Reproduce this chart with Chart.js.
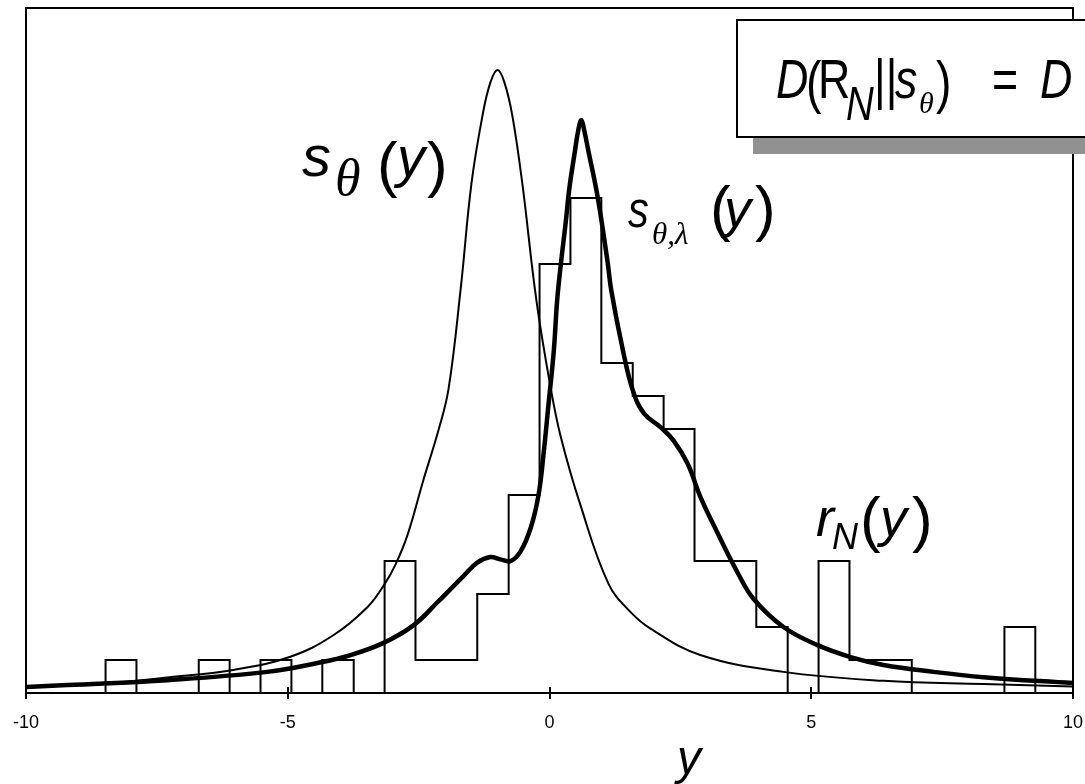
<!DOCTYPE html>
<html>
<head>
<meta charset="utf-8">
<script src="https://cdn.jsdelivr.net/npm/chart.js@4"></script>
<style>
  html, body { margin: 0; padding: 0; background: #fff; }
  canvas { display: block; }
</style>
</head>
<body>
<canvas id="chart" width="1085" height="784"></canvas>
<script>
// axis
const xTicks = [-10, -5, 0, 5, 10];

// histogram r_N(y): bin edges and counts
const binEdges = [-8.48, -7.89, -7.30, -6.70, -6.11, -5.52, -4.93, -4.34, -3.74, -3.15,
                  -2.56, -1.97, -1.38, -0.78, -0.19, 0.40, 0.99, 1.59, 2.18, 2.77,
                  3.36, 3.95, 4.55, 5.14, 5.73, 6.32, 6.92, 7.51, 8.10, 8.69, 9.28];
const binCounts = [1, 0, 0, 1, 0, 1, 0, 1, 0, 4,
                   1, 1, 3, 6, 13, 15, 10, 9, 8, 4,
                   4, 2, 0, 4, 1, 1, 0, 0, 0, 2];

// s_theta(y), thin curve
const thinX = [-9.99, -8.58, -7.30, -6.04, -4.95, -4.13, -3.48, -3.15, -2.94, -2.71,
               -2.41, -2.12, -1.93, -1.70, -1.49, -1.28, -1.13, -0.99, -0.86, -0.71,
               -0.52, -0.25, 0.02, 0.21, 0.59, 1.13, 1.55, 1.93, 2.88, 4.47,
               6.38, 8.29, 9.99];
const thinY = [0.20, 0.28, 0.47, 0.70, 1.10, 1.75, 2.60, 3.30, 3.90, 4.80,
               6.45, 7.97, 9.20, 12.2, 15.45, 17.5, 18.5, 18.88, 18.5, 17.5,
               15.45, 11.9, 9.27, 7.8, 5.7, 3.3, 2.45, 1.95, 1.15, 0.64,
               0.37, 0.27, 0.20];

// s_theta,lambda(y), thick curve
const thickX = [-9.99, -9.21, -7.30, -5.39, -4.43, -3.80, -3.17, -2.60, -2.14, -1.64,
                -1.38, -1.13, -0.94, -0.74, -0.55, -0.36, -0.21, -0.11, -0.02, 0.08,
                0.15, 0.23, 0.31, 0.38, 0.48, 0.55, 0.61, 0.67, 0.74, 0.92,
                1.11, 1.18, 1.39, 1.59, 1.80, 2.12, 2.37, 2.64, 2.88, 3.21,
                3.61, 3.90, 4.47, 5.12, 5.75, 6.38, 7.34, 8.29, 9.99];
const thickY = [0.18, 0.24, 0.39, 0.64, 0.91, 1.15, 1.52, 2.05, 2.75, 3.55,
                3.95, 4.12, 4.05, 4.00, 4.30, 5.00, 6.00, 7.30, 8.73, 10.33,
                11.97, 13.18, 14.27, 15.3, 16.36, 17.06, 17.36, 17.0, 16.45, 15.03,
                13.06, 12.2, 10.48, 9.18, 8.48, 8.06, 7.65, 6.95, 5.95, 4.85,
                3.6, 2.85, 2.0, 1.45, 1.09, 0.85, 0.64, 0.48, 0.30];

const histPoints = [{ x: binEdges[0], y: 0 }];
binCounts.forEach((c, i) => histPoints.push({ x: binEdges[i], y: c }));
histPoints.push({ x: binEdges[binEdges.length - 1], y: 0 });

const SANS = "'Liberation Sans', Arial, sans-serif";
const SERIF = "'Liberation Serif', 'DejaVu Serif', serif";

// one glyph group at a given spot, sx squeezes it sideways
function glyph(ctx, t, x, y, font, sx) {
  ctx.save();
  ctx.translate(x, y);
  ctx.scale(sx || 1, 1);
  ctx.font = font;
  ctx.fillText(t, 0, 0);
  ctx.restore();
}

const framePlugin = {
  id: 'frame',
  afterDraw(chart) {
    const { ctx, chartArea: a } = chart;
    const xs = chart.scales.x;
    ctx.save();
    ctx.strokeStyle = '#000';
    ctx.lineWidth = 2;
    ctx.strokeRect(a.left, a.top, a.right - a.left, a.bottom - a.top);
    // major ticks crossing the axis
    xTicks.forEach(v => {
      const px = Math.round(xs.getPixelForValue(v));
      ctx.beginPath();
      ctx.moveTo(px, a.bottom - 6);
      ctx.lineTo(px, a.bottom + 6);
      ctx.stroke();
    });

    ctx.fillStyle = '#000';
    ctx.textBaseline = 'alphabetic';
    ctx.textAlign = 'left';

    // s_theta(y)
    glyph(ctx, 's', 302, 176, `italic 58px ${SANS}`);
    glyph(ctx, 'θ', 335, 195, `italic 52px ${SERIF}`);
    glyph(ctx, '(', 377, 185, `62px ${SANS}`);
    glyph(ctx, 'y', 397, 176, `italic 56px ${SANS}`);
    glyph(ctx, ')', 427, 185, `62px ${SANS}`);

    // s_theta,lambda(y)
    glyph(ctx, 's', 628, 227, `italic 52px ${SANS}`, 0.8);
    glyph(ctx, 'θ,λ', 652, 244, `italic 31px ${SERIF}`);
    glyph(ctx, '(', 710, 229, `62px ${SANS}`);
    glyph(ctx, 'y', 724, 227, `italic 54px ${SANS}`);
    glyph(ctx, ')', 755, 229, `62px ${SANS}`);

    // r_N(y)
    glyph(ctx, 'r', 816, 536, `italic 54px ${SANS}`);
    glyph(ctx, 'N', 832, 549, `italic 36px ${SANS}`);
    glyph(ctx, '(', 860, 540, `62px ${SANS}`);
    glyph(ctx, 'y', 880, 536, `italic 54px ${SANS}`);
    glyph(ctx, ')', 912, 540, `62px ${SANS}`);

    // axis title
    ctx.textAlign = 'center';
    ctx.font = `italic 48px ${SANS}`;
    ctx.fillText('y', 689, 774);
    ctx.textAlign = 'left';

    // boxed formula with shadow
    ctx.fillStyle = '#919191';
    ctx.fillRect(753, 37, 400, 117);
    ctx.fillStyle = '#fff';
    ctx.fillRect(737, 20, 400, 117);
    ctx.strokeRect(737, 20, 400, 117);
    ctx.fillStyle = '#000';
    const sq = 0.8;
    glyph(ctx, 'D', 776, 98, `italic 56px ${SANS}`, sq);
    glyph(ctx, '(', 806, 102, `58px ${SANS}`, sq);
    glyph(ctx, 'R', 818, 98, `56px ${SANS}`, sq);
    glyph(ctx, 'N', 846, 120, `italic 48px ${SANS}`, sq);
    glyph(ctx, '||', 874, 98, `56px ${SANS}`, sq);
    glyph(ctx, 's', 895, 98, `italic 56px ${SANS}`, sq);
    glyph(ctx, 'θ', 919, 113, `italic 30px ${SERIF}`);
    glyph(ctx, ')', 936, 102, `58px ${SANS}`, sq);
    glyph(ctx, '=', 992, 98, `56px ${SANS}`, sq);
    glyph(ctx, 'D', 1040, 98, `italic 56px ${SANS}`, sq);
    ctx.restore();
  }
};

new Chart(document.getElementById('chart'), {
  type: 'line',
  data: {
    datasets: [
      {
        label: 'r_N(y)',
        data: histPoints,
        stepped: 'before',
        borderColor: '#000',
        borderWidth: 2,
        pointRadius: 0,
        fill: false
      },
      {
        label: 's_theta(y)',
        data: thinX.map((x, i) => ({ x, y: thinY[i] })),
        borderColor: '#000',
        borderWidth: 2,
        pointRadius: 0,
        tension: 0.4,
        fill: false
      },
      {
        label: 's_theta,lambda(y)',
        data: thickX.map((x, i) => ({ x, y: thickY[i] })),
        borderColor: '#000',
        borderWidth: 4.5,
        pointRadius: 0,
        tension: 0.4,
        fill: false
      }
    ]
  },
  options: {
    responsive: false,
    animation: false,
    devicePixelRatio: 1,
    layout: { padding: { left: 26, top: 8, right: 12, bottom: 0 } },
    plugins: { legend: { display: false }, tooltip: { enabled: false } },
    scales: {
      x: {
        type: 'linear',
        min: -10,
        max: 10,
        afterBuildTicks: s => { s.ticks = xTicks.map(v => ({ value: v })); },
        afterFit: s => { s.height = 91; s.paddingLeft = 0; s.paddingRight = 0; },
        grid: { display: false, drawTicks: false },
        border: { display: false },
        ticks: {
          autoSkip: false,
          maxRotation: 0,
          padding: 19,
          color: '#000',
          font: { family: SANS, size: 18 },
          callback: v => String(v)
        }
      },
      y: {
        type: 'linear',
        min: 0,
        max: 20.76,
        display: false
      }
    }
  },
  plugins: [framePlugin]
});
</script>
</body>
</html>
